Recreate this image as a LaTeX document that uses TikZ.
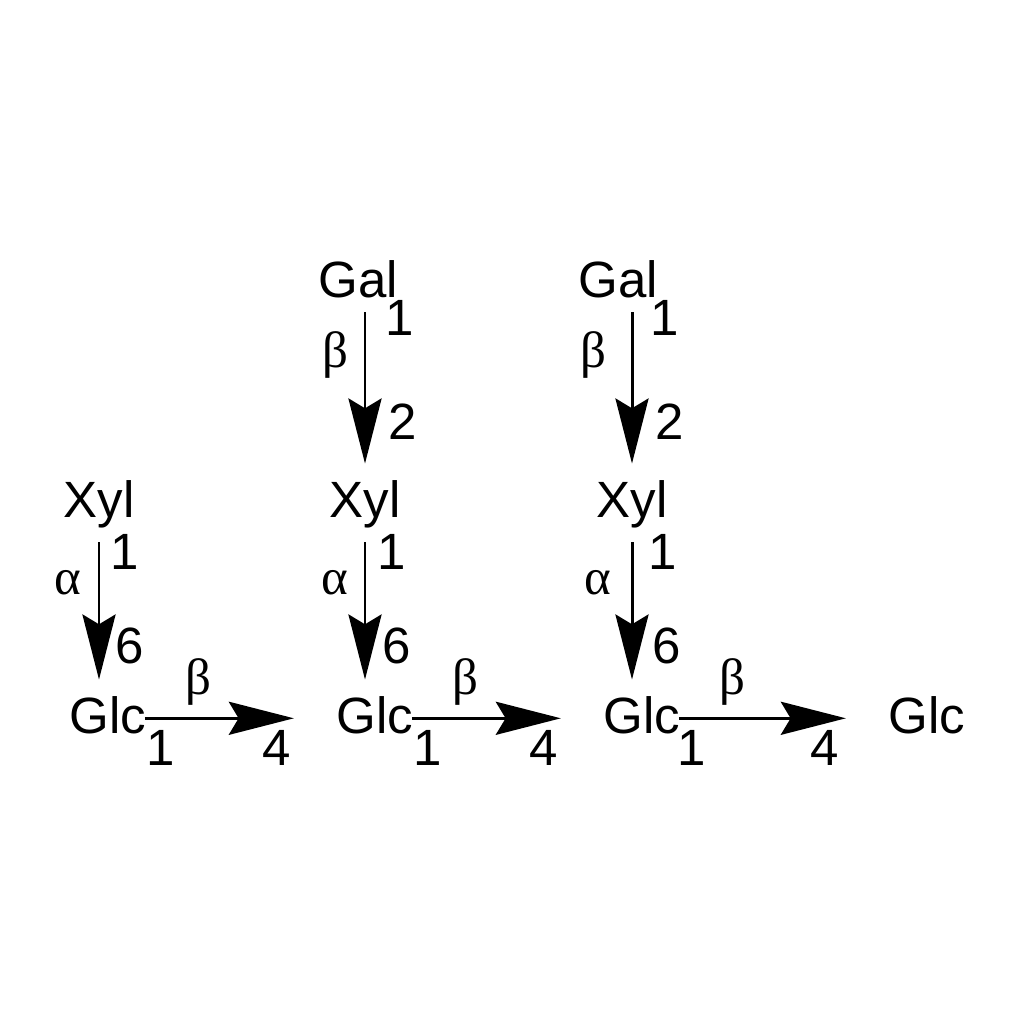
\documentclass[tikz,border=0pt]{standalone}
\usepackage{fontspec}
\setmainfont{Liberation Sans}
\newfontfamily\greekfont{Liberation Serif}
\usetikzlibrary{arrows.meta}
\tikzstyle{Sugar} = [inner sep=0pt, anchor=base]
\tikzstyle{Tag} = [inner sep=0pt]
\tikzstyle{Link} = [
line width=0.85pt,
-{Stealth[length=18.5pt, width=9.4pt, inset=2.8pt]},
shorten <= 4pt, shorten >= 4.5pt]
\tikzstyle{Chain} = [Link, shorten <= -0.6pt, shorten >= 12pt]

\begin{document}
\begin{tikzpicture}[x=0.01cm, y=-0.01cm, font=\fontsize{14.5}{17}\selectfont]
    \useasboundingbox (0,0) rectangle (1024,1024);
    \node [Sugar](gal2) at (358,297){Gal};
    \node [Sugar](gal3) at (618,297){Gal};
    \node [Sugar](xyl1) at (99,517){Xyl};
    \node [Sugar](xyl2) at (365,517){Xyl};
    \node [Sugar](xyl3) at (632,517){Xyl};
    \node [Sugar](glc1) at (108,733){Glc};
    \node [Sugar](glc2) at (375,733){Glc};
    \node [Sugar](glc3) at (642,733){Glc};
    \node [Sugar](glc4) at (927,733){Glc};

    % Gal -> Xyl
    \draw [Link] (gal2.south -| xyl2) to (xyl2.north);
    \draw [Link] (gal3.south -| xyl3) to (xyl3.north);
    \node [Tag](g2a) at (400,318){1};
    \node [Tag](g2b) at (335,355){\greekfont β};
    \node [Tag](g2c) at (403,422){2};
    \node [Tag](g3a) at (665,318){1};
    \node [Tag](g3b) at (593,355){\greekfont β};
    \node [Tag](g3c) at (670,422){2};

    % Xyl -> Glc
    \draw [Link] (xyl1.south) to (xyl1 |- glc1.north);
    \draw [Link] (xyl2.south) to (xyl2 |- glc2.north);
    \draw [Link] (xyl3.south) to (xyl3 |- glc3.north);
    \node [Tag](x1a) at (125,552){1};
    \node [Tag](x1b) at (68,583){\greekfont α};
    \node [Tag](x1c) at (130,646){6};
    \node [Tag](x2a) at (392,552){1};
    \node [Tag](x2b) at (335,583){\greekfont α};
    \node [Tag](x2c) at (397,646){6};
    \node [Tag](x3a) at (663,552){1};
    \node [Tag](x3b) at (598,583){\greekfont α};
    \node [Tag](x3c) at (667,646){6};

    % Glc -> Glc backbone
    \draw [Chain] ([yshift=-1pt]glc1.east) to ([yshift=-1pt]glc2.west);
    \draw [Chain] ([yshift=-1pt]glc2.east) to ([yshift=-1pt]glc3.west);
    \draw [Chain] ([yshift=-1pt]glc3.east) to ([yshift=-1pt]glc4.west);
    \node [Tag](c1a) at (198,682){\greekfont β};
    \node [Tag](c1b) at (161,748){1};
    \node [Tag](c1c) at (277,748){4};
    \node [Tag](c2a) at (465,682){\greekfont β};
    \node [Tag](c2b) at (428,748){1};
    \node [Tag](c2c) at (544,748){4};
    \node [Tag](c3a) at (732,682){\greekfont β};
    \node [Tag](c3b) at (692,748){1};
    \node [Tag](c3c) at (825,748){4};
\end{tikzpicture}
\end{document}
